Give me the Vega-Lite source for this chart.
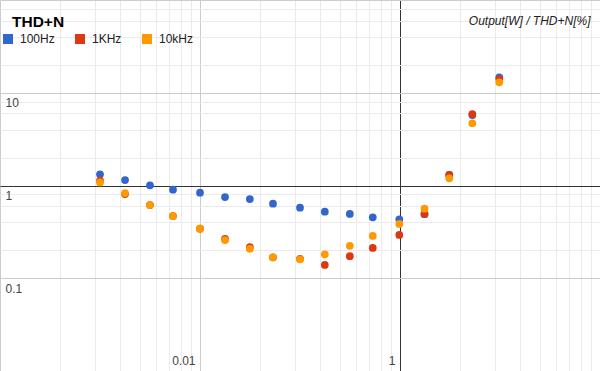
{
  "$schema": "https://vega.github.io/schema/vega-lite/v6.json",
  "width": 600,
  "height": 371,
  "autosize": {"type": "none"},
  "padding": 0,
  "background": "white",
  "config": {"view": {"stroke": null}, "font": "Liberation Sans"},
  "title": {"text": "THD+N", "anchor": "start", "frame": "group", "orient": "top", "offset": 0, "baseline": "alphabetic", "dx": 12, "dy": 42, "font": "Liberation Sans", "fontSize": 15.5, "fontWeight": "bold", "color": "#000000"},
  "data": {"values": [
    {"f": "100Hz", "w": 0.001, "thd": 1.32},
    {"f": "100Hz", "w": 0.00178, "thd": 1.146},
    {"f": "100Hz", "w": 0.00316, "thd": 1.005},
    {"f": "100Hz", "w": 0.00537, "thd": 0.901},
    {"f": "100Hz", "w": 0.01, "thd": 0.836},
    {"f": "100Hz", "w": 0.0178, "thd": 0.751},
    {"f": "100Hz", "w": 0.0315, "thd": 0.715},
    {"f": "100Hz", "w": 0.0537, "thd": 0.637},
    {"f": "100Hz", "w": 0.1, "thd": 0.577},
    {"f": "100Hz", "w": 0.177, "thd": 0.522},
    {"f": "100Hz", "w": 0.315, "thd": 0.493},
    {"f": "100Hz", "w": 0.534, "thd": 0.454},
    {"f": "100Hz", "w": 0.984, "thd": 0.432},
    {"f": "100Hz", "w": 1.758, "thd": 0.49},
    {"f": "100Hz", "w": 3.11, "thd": 1.3},
    {"f": "100Hz", "w": 5.29, "thd": 5.75},
    {"f": "100Hz", "w": 9.84, "thd": 14.67},
    {"f": "1KHz", "w": 0.001, "thd": 1.127},
    {"f": "1KHz", "w": 0.00178, "thd": 0.809},
    {"f": "1KHz", "w": 0.00316, "thd": 0.616},
    {"f": "1KHz", "w": 0.00537, "thd": 0.469},
    {"f": "1KHz", "w": 0.01, "thd": 0.342},
    {"f": "1KHz", "w": 0.0178, "thd": 0.266},
    {"f": "1KHz", "w": 0.0315, "thd": 0.216},
    {"f": "1KHz", "w": 0.0537, "thd": 0.168},
    {"f": "1KHz", "w": 0.1, "thd": 0.162},
    {"f": "1KHz", "w": 0.177, "thd": 0.139},
    {"f": "1KHz", "w": 0.315, "thd": 0.173},
    {"f": "1KHz", "w": 0.534, "thd": 0.212},
    {"f": "1KHz", "w": 0.984, "thd": 0.293},
    {"f": "1KHz", "w": 1.758, "thd": 0.493},
    {"f": "1KHz", "w": 3.11, "thd": 1.3},
    {"f": "1KHz", "w": 5.29, "thd": 5.9},
    {"f": "1KHz", "w": 9.84, "thd": 14.06},
    {"f": "10kHz", "w": 0.001, "thd": 1.08},
    {"f": "10kHz", "w": 0.00178, "thd": 0.83},
    {"f": "10kHz", "w": 0.00316, "thd": 0.616},
    {"f": "10kHz", "w": 0.00537, "thd": 0.469},
    {"f": "10kHz", "w": 0.01, "thd": 0.342},
    {"f": "10kHz", "w": 0.0178, "thd": 0.258},
    {"f": "10kHz", "w": 0.0315, "thd": 0.208},
    {"f": "10kHz", "w": 0.0537, "thd": 0.168},
    {"f": "10kHz", "w": 0.1, "thd": 0.16},
    {"f": "10kHz", "w": 0.177, "thd": 0.181},
    {"f": "10kHz", "w": 0.315, "thd": 0.224},
    {"f": "10kHz", "w": 0.534, "thd": 0.286},
    {"f": "10kHz", "w": 0.984, "thd": 0.385},
    {"f": "10kHz", "w": 1.758, "thd": 0.562},
    {"f": "10kHz", "w": 3.11, "thd": 1.196},
    {"f": "10kHz", "w": 5.29, "thd": 4.69},
    {"f": "10kHz", "w": 9.84, "thd": 12.97}
  ]},
  "mark": {"type": "point", "filled": true, "size": 60, "opacity": 1, "strokeWidth": 0},
  "encoding": {
    "x": {
      "field": "w", "type": "quantitative",
      "scale": {"type": "log", "domain": [0.0001, 100], "nice": false, "zero": false},
      "axis": {
        "title": null,
        "values": [0.0001, 0.0004, 0.0009, 0.0016, 0.0025, 0.0036, 0.0049, 0.0064, 0.0081, 0.01, 0.04, 0.09, 0.16, 0.25, 0.36, 0.49, 0.64, 0.81, 1, 4, 9, 16, 25, 36, 49, 64, 81, 100],
        "grid": true,
        "gridColor": {"condition": [{"test": "datum.value == 1", "value": "#333333"}, {"test": "datum.value == 0.0001 || datum.value == 0.01 || datum.value == 100", "value": "#cccccc"}], "value": "#ebebeb"},
        "gridWidth": 1,
        "domain": false,
        "ticks": false,
        "tickSize": 0,
        "labelExpr": "datum.value == 0.01 ? '0.01' : datum.value == 1 ? '1' : ''",
        "labelAlign": "right",
        "labelBaseline": "alphabetic",
        "labelPadding": -7,
        "labelOffset": -5,
        "labelOverlap": false,
        "labelFlush": false,
        "labelBound": false,
        "labelFont": "Liberation Sans",
        "labelFontSize": 12,
        "labelColor": "#444444"
      }
    },
    "y": {
      "field": "thd", "type": "quantitative",
      "scale": {"type": "log", "domain": [0.01, 100], "nice": false, "zero": false},
      "axis": {
        "title": "Output[W] / THD+N[%]",
        "titleAngle": 0,
        "titleX": 590,
        "titleY": 24,
        "titleAlign": "right",
        "titleBaseline": "alphabetic",
        "titleFont": "Liberation Sans",
        "titleFontStyle": "italic",
        "titleFontWeight": "normal",
        "titleFontSize": 12,
        "titleColor": "#222222",
        "values": [0.1, 0.2, 0.4, 0.6, 0.8, 1, 2, 4, 6, 8, 10, 20, 40, 60, 80, 100],
        "grid": true,
        "gridColor": {"condition": [{"test": "datum.value == 1", "value": "#333333"}, {"test": "datum.value == 0.1 || datum.value == 10 || datum.value == 100", "value": "#cccccc"}], "value": "#ebebeb"},
        "gridWidth": 1,
        "domain": false,
        "ticks": false,
        "tickSize": 0,
        "labelExpr": "datum.value == 0.1 ? '0.1' : datum.value == 1 ? '1' : datum.value == 10 ? '10' : ''",
        "labelAlign": "left",
        "labelBaseline": "alphabetic",
        "labelPadding": -5,
        "labelOffset": 14,
        "labelOverlap": false,
        "labelFlush": false,
        "labelBound": false,
        "labelFont": "Liberation Sans",
        "labelFontSize": 12,
        "labelColor": "#444444"
      }
    },
    "color": {
      "field": "f", "type": "nominal",
      "scale": {"domain": ["100Hz", "1KHz", "10kHz"], "range": ["#3366cc", "#dc3912", "#ff9900"]},
      "legend": {
        "title": null,
        "orient": "none",
        "legendX": 2,
        "legendY": 33,
        "direction": "horizontal",
        "symbolType": "square",
        "symbolSize": 100,
        "symbolStrokeWidth": 0,
        "symbolOpacity": 1,
        "labelFont": "Liberation Sans",
        "labelFontSize": 12,
        "labelColor": "#222222",
        "labelOffset": 6,
        "columnPadding": 19,
        "padding": 0
      }
    }
  }
}
